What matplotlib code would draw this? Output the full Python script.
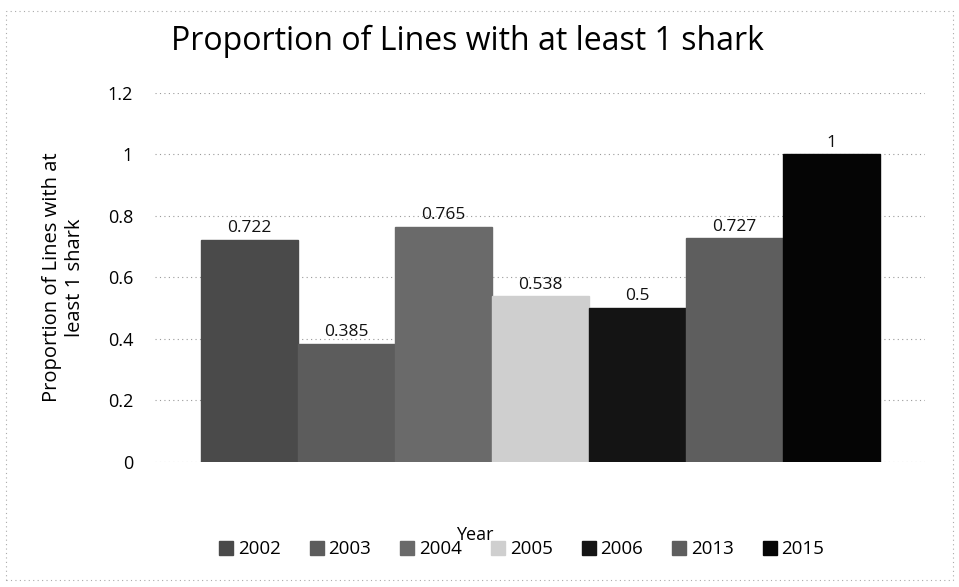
import matplotlib
matplotlib.use("Agg")
import matplotlib.pyplot as plt
from matplotlib.patches import Rectangle

years = ["2002", "2003", "2004", "2005", "2006", "2013", "2015"]
proportions = [0.722, 0.385, 0.765, 0.538, 0.5, 0.727, 1.0]
bar_colors = ["#4a4a4a", "#5c5c5c", "#6a6a6a", "#cfcfcf", "#141414", "#5e5e5e", "#050505"]
yticks = [0, 0.2, 0.4, 0.6, 0.8, 1.0, 1.2]
ytick_labels = ["0", "0.2", "0.4", "0.6", "0.8", "1", "1.2"]

plt.rcParams["font.family"] = ["Open Sans", "DejaVu Sans"]

fig = plt.figure(figsize=(9.59, 5.87), dpi=100)
ax = fig.add_axes([0.162, 0.213, 0.803, 0.629])

handles = []
for i, (yr, val, col) in enumerate(zip(years, proportions, bar_colors)):
    b = ax.bar(i, val, width=1.0, color=col, edgecolor=col, label=yr, zorder=3)
    handles.append(b)
    txt = "1" if val == 1.0 else f"{val:g}"
    ax.text(i, val + 0.012, txt, ha="center", va="bottom", fontsize=12.5, color="#111111", zorder=4)

ax.set_xlim(-0.97, 6.97)
ax.set_ylim(0, 1.2)
ax.set_yticks(yticks)
ax.set_yticklabels(ytick_labels, fontsize=13)
ax.set_xticks([])
ax.tick_params(axis="y", length=0, pad=16)
ax.grid(axis="y", color="#9a9a9a", linestyle=(0, (1, 3)), linewidth=0.8, zorder=0)
for s in ax.spines.values():
    s.set_visible(False)

ax.set_ylabel("Proportion of Lines with at\nleast 1 shark", fontsize=14.5, labelpad=16)
fig.text(0.487, 0.93, "Proportion of Lines with at least 1 shark", ha="center", va="center", fontsize=23)
fig.text(0.495, 0.088, "Year", ha="center", va="center", fontsize=13)

fig.legend(handles=handles, labels=years, loc="center", bbox_to_anchor=(0.544, 0.064), ncol=7,
           frameon=False, fontsize=13.5, handlelength=0.75, handleheight=0.75,
           handletextpad=0.25, columnspacing=1.55)

# faint dotted frame around the chart
fig.patches.append(Rectangle((0.006, 0.012), 0.988, 0.97, transform=fig.transFigure,
                             fill=False, edgecolor="#aaaaaa", linestyle=(0, (1, 3)), linewidth=0.8))

fig.savefig("out.png", dpi=100)
plt.close(fig)
